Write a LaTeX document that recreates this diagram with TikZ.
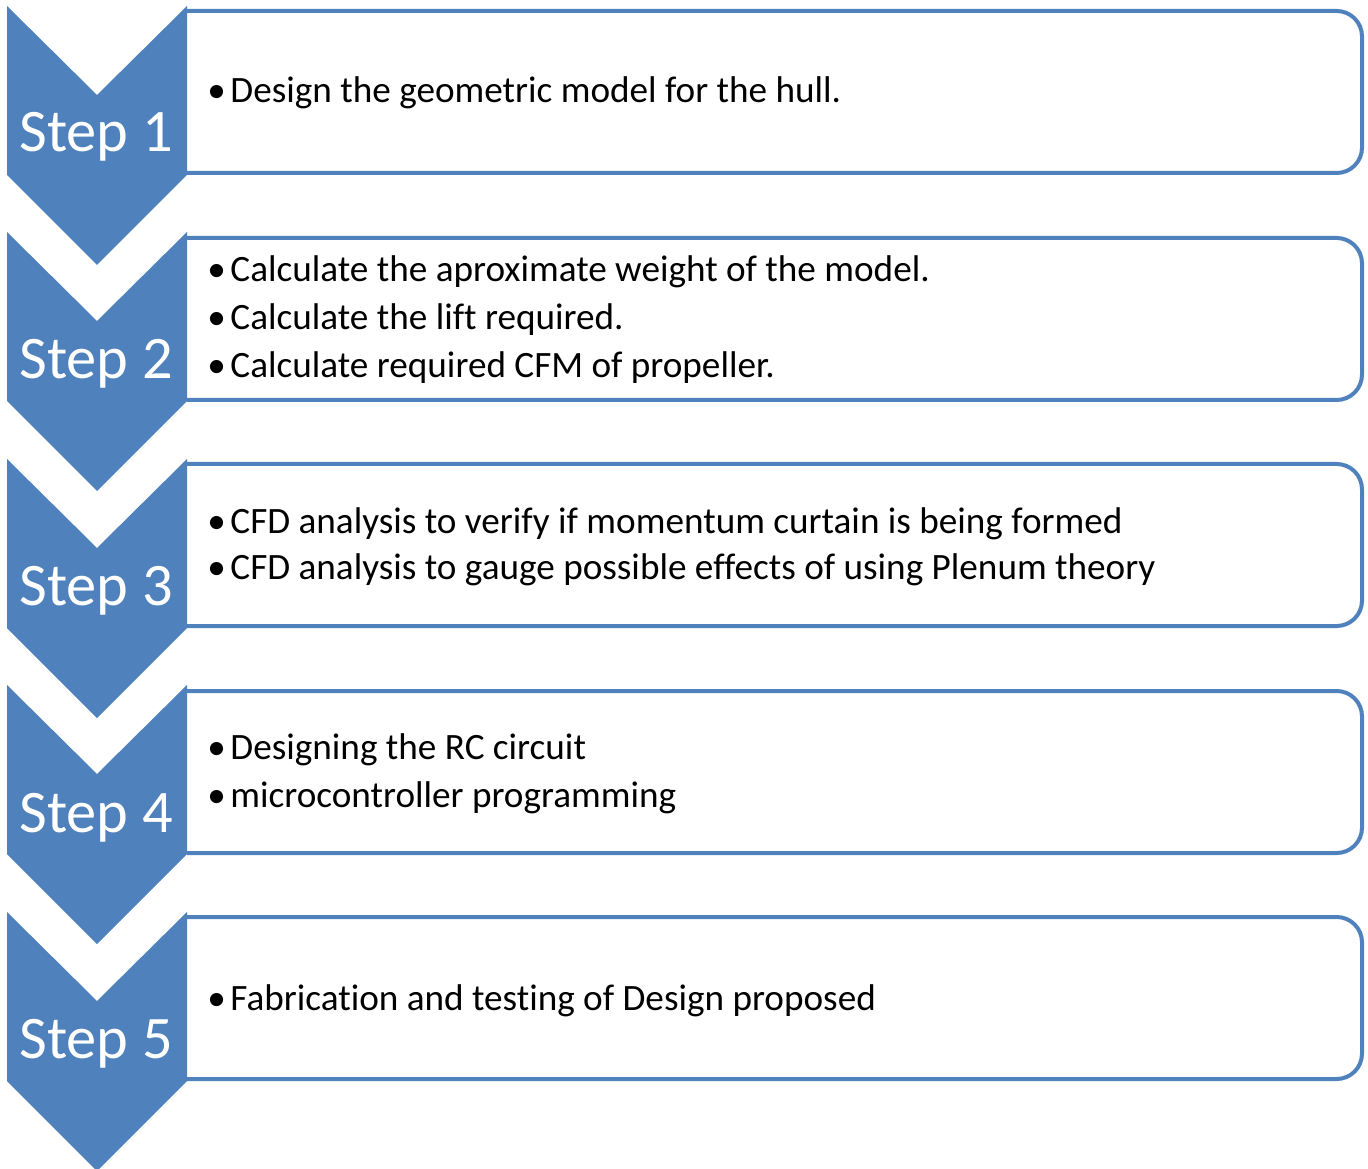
\documentclass[tikz,border=0pt]{standalone}
\usepackage{fontspec}
\setmainfont{Carlito}[Ligatures=NoCommon]
\usepackage{xcolor}
\definecolor{stepblue}{RGB}{79,129,189}

\begin{document}
\begin{tikzpicture}[x=0.75pt,y=0.75pt,yscale=-1,xscale=1]
\path[use as bounding box] (0,0) rectangle (1368,1169);

%Rounded boxes
\draw [color=stepblue, line width=3pt, rounded corners=19pt] (187,11) -- (1362,11) -- (1362,173) -- (187,173) ;
\draw [color=stepblue, line width=3pt, rounded corners=19pt] (187,238) -- (1362,238) -- (1362,400) -- (187,400) ;
\draw [color=stepblue, line width=3pt, rounded corners=19pt] (187,464) -- (1362,464) -- (1362,626) -- (187,626) ;
\draw [color=stepblue, line width=3pt, rounded corners=19pt] (187,691) -- (1362,691) -- (1362,853) -- (187,853) ;
\draw [color=stepblue, line width=3pt, rounded corners=19pt] (187,917) -- (1362,917) -- (1362,1079) -- (187,1079) ;

%Chevrons
\fill [color=stepblue] (7,6) -- (97,95) -- (187,6) -- (187,175) -- (97,265) -- (7,175) -- cycle ;
\fill [color=stepblue] (7,232) -- (97,321) -- (187,232) -- (187,401) -- (97,491) -- (7,401) -- cycle ;
\fill [color=stepblue] (7,459) -- (97,548) -- (187,459) -- (187,628) -- (97,718) -- (7,628) -- cycle ;
\fill [color=stepblue] (7,685) -- (97,774) -- (187,685) -- (187,854) -- (97,944) -- (7,854) -- cycle ;
\fill [color=stepblue] (7,912) -- (97,1001) -- (187,912) -- (187,1081) -- (97,1171) -- (7,1081) -- cycle ;

% Step labels
\node (step1) at (96,152) [anchor=base, inner sep=0pt, text=white, font=\fontsize{45.3}{50}\selectfont] {Step 1};
\node (step2) at (96,379) [anchor=base, inner sep=0pt, text=white, font=\fontsize{45.3}{50}\selectfont] {Step 2};
\node (step3) at (96,605) [anchor=base, inner sep=0pt, text=white, font=\fontsize{45.3}{50}\selectfont] {Step 3};
\node (step4) at (96,832) [anchor=base, inner sep=0pt, text=white, font=\fontsize{45.3}{50}\selectfont] {Step 4};
\node (step5) at (96,1058) [anchor=base, inner sep=0pt, text=white, font=\fontsize{45.3}{50}\selectfont] {Step 5};

% Bullet text
\tikzset{item/.style={anchor=base west, inner sep=0pt, font=\fontsize{27.9}{36}\selectfont}}
\node (d1a) at (207,103) [item] {\textbullet\hspace{3.5pt}Design the geometric model for the hull.};
\node (d2a) at (207,282) [item] {\textbullet\hspace{3.5pt}Calculate the aproximate weight of the model.};
\node (d2b) at (207,330) [item] {\textbullet\hspace{3.5pt}Calculate the lif\kern0pt t required.};
\node (d2c) at (207,378) [item] {\textbullet\hspace{3.5pt}Calculate required CFM of propeller.};
\node (d3a) at (207,533) [item] {\textbullet\hspace{3.5pt}CFD analysis to verify if momentum curtain is being formed};
\node (d3b) at (207,580) [item] {\textbullet\hspace{3.5pt}CFD analysis to gauge possible effects of using Plenum theory};
\node (d4a) at (207,759) [item] {\textbullet\hspace{3.5pt}Designing the RC circuit};
\node (d4b) at (207,807) [item] {\textbullet\hspace{3.5pt}microcontroller programming};
\node (d5a) at (207,1010) [item] {\textbullet\hspace{3.5pt}Fabrication and testing of Design proposed};

\end{tikzpicture}
\end{document}
